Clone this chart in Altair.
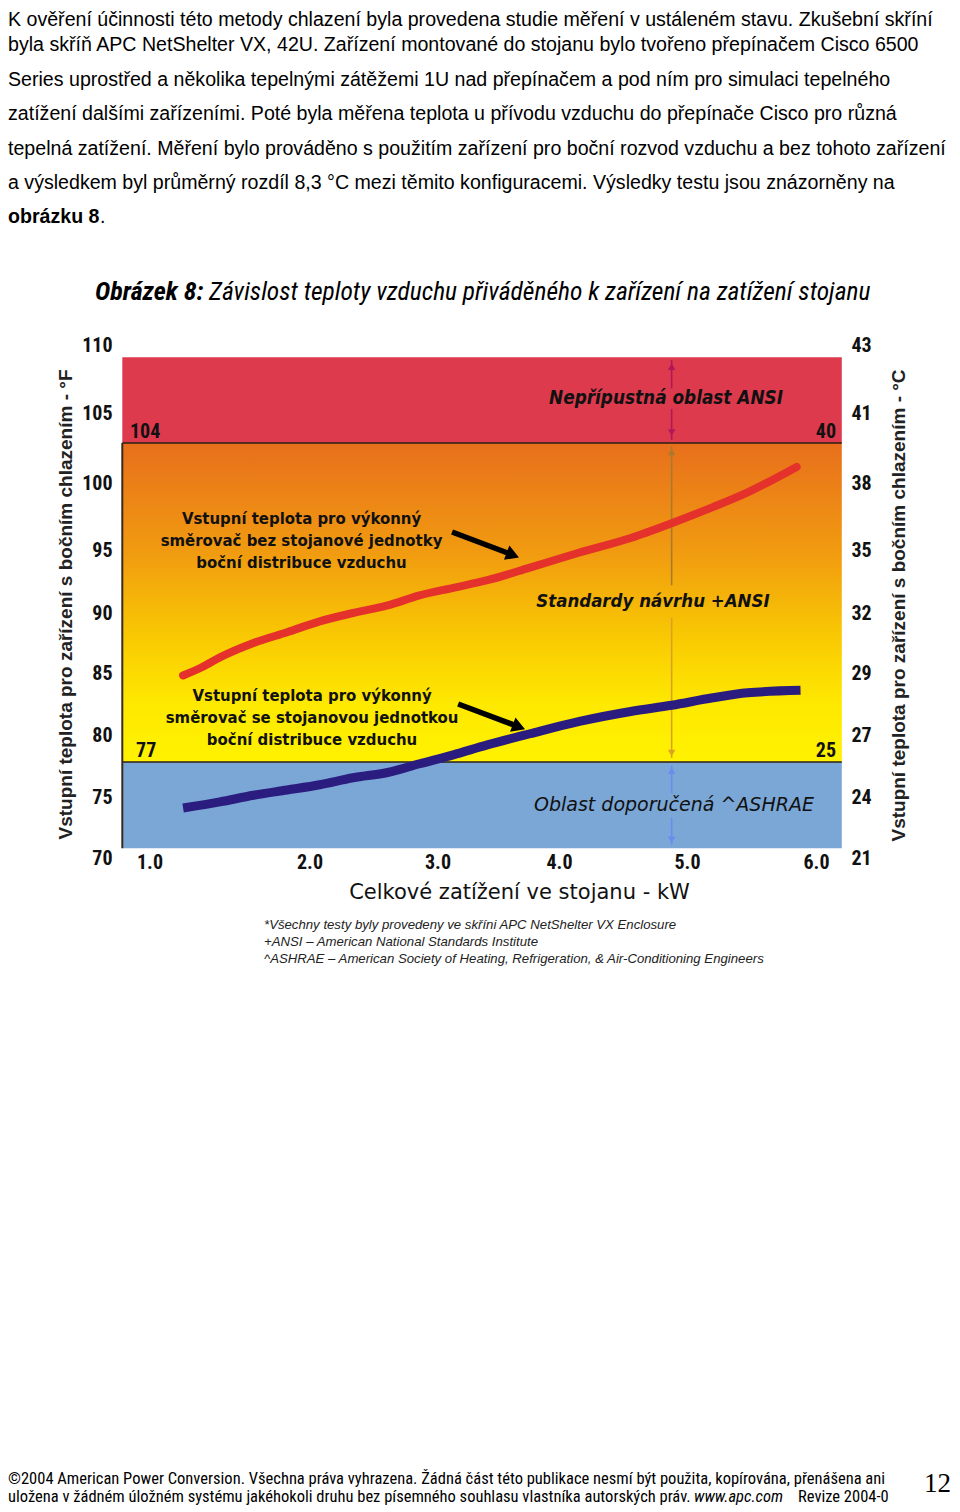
import altair as alt
import pandas as pd

# ------------------------------------------------------------------ data
red_kw = [1.21, 1.33, 1.44, 1.65, 1.86, 2.08, 2.34, 2.61, 2.86, 3.13, 3.41, 3.76, 4.16, 4.56, 4.88, 5.20, 5.47, 5.85]
red_f = [84.8, 85.5, 86.3, 87.5, 88.4, 89.3, 90.0, 90.6, 91.4, 92.0, 92.6, 93.6, 94.8, 95.9, 97.0, 98.2, 99.3, 101.6]
blue_kw = [1.21, 1.44, 1.65, 1.86, 2.08, 2.34, 2.61, 2.86, 3.13, 3.41, 3.76, 4.16, 4.56, 4.88, 5.20, 5.47, 5.88]
blue_f = [74.1, 74.6, 75.1, 75.4, 75.7, 76.1, 76.4, 76.9, 77.8, 78.9, 80.1, 81.1, 81.9, 82.4, 83.0, 83.4, 83.6]

x_ticks = [1, 2, 3, 4, 5, 6]
y_ticks_f = [70, 75, 80, 85, 90, 95, 100, 105, 110]

ansi_limit_f = 104
ashrae_limit_f = 77
band_kw = [0.83, 6.2]
band_top_f = 109.1
band_bottom_f = 70.8

# the original figure's axes are hand drawn and not uniform -> piecewise scales
X_SCALE = alt.Scale(domain=[1, 2, 3, 4, 5, 6],
                    range=[27.5, 187.5, 315.5, 437, 565, 694], nice=False, zero=False)
Y_SCALE = alt.Scale(domain=[70, 75, 77, 80, 85, 90, 95, 100, 104, 105, 110],
                    range=[501, 440, 405, 378, 316, 256, 193, 126, 86, 56, -12], nice=False, zero=False)

SANS = "Liberation Sans, Arial, sans-serif"
VERD = "DejaVu Sans Condensed, DejaVu Sans, sans-serif"
VERD_W = "DejaVu Sans, Verdana, sans-serif"
NARROW = "Roboto Condensed, Liberation Sans, sans-serif"
SERIF = "Liberation Serif, Times New Roman, serif"

W, H = 720, 491


def xq():
    return alt.X("kw:Q", scale=X_SCALE, axis=None)


def yq():
    return alt.Y("f:Q", scale=Y_SCALE, axis=None)


def band_rect(y0, y1, color):
    df = pd.DataFrame({"kw": [band_kw[0]], "kw2": [band_kw[1]], "f": [y0], "f2": [y1]})
    return alt.Chart(df).mark_rect(color=color).encode(x=xq(), x2="kw2:Q", y=yq(), y2="f2:Q")


gradient = {"gradient": "linear", "x1": 0, "x2": 0, "y1": 0, "y2": 1,
            "stops": [{"offset": 0, "color": "#E86F1C"},
                      {"offset": 0.35, "color": "#F19C10"},
                      {"offset": 0.62, "color": "#F9CB02"},
                      {"offset": 0.82, "color": "#FEE900"},
                      {"offset": 1, "color": "#FFF200"}]}

red_band = band_rect(ansi_limit_f, band_top_f, "#DE3A4E")
mid_band = band_rect(ashrae_limit_f, ansi_limit_f, gradient)
blue_band = band_rect(band_bottom_f, ashrae_limit_f, "#7BA7D6")

axis_df = pd.DataFrame({"kw": red_kw, "f": red_f})
left_axis = alt.Chart(axis_df).mark_point(opacity=0).encode(
    x=alt.X("kw:Q", scale=X_SCALE, axis=alt.Axis(
        values=x_ticks, format=".1f", domain=False, ticks=False, grid=False, labelFlush=False,
        orient="bottom",
        labelFont=NARROW, labelFontWeight="bold", labelFontSize=20, labelColor="#111", labelPadding=4,
        title="Celkové zatížení ve stojanu - kW", titleFont=VERD_W, titleFontSize=21,
        titleFontWeight="normal", titleColor="#111", titleX=397, titleY=44, titleBaseline="middle")),
    y=alt.Y("f:Q", scale=Y_SCALE, axis=alt.Axis(
        values=y_ticks_f, orient="left", domain=False, ticks=False, grid=False, labelFlush=False,
        labelFont=NARROW, labelFontWeight="bold", labelFontSize=20, labelColor="#111", labelPadding=10,
        title="Vstupní teplota pro zařízení s bočním chlazením - °F", titleFont=SANS,
        titleFontSize=19, titleFontWeight="bold", titleColor="#222", titleAngle=270,
        titleX=-57, titleY=247, titleAlign="center", titleBaseline="middle")),
)
right_axis = alt.Chart(axis_df).mark_point(opacity=0).encode(
    x=alt.X("kw:Q", scale=X_SCALE, axis=None),
    y=alt.Y("f:Q", scale=Y_SCALE, axis=alt.Axis(
        values=y_ticks_f, orient="right", domain=False, ticks=False, grid=False,
        labelExpr="format(round((datum.value - 32) * 5 / 9), 'd')",
        labelFont=NARROW, labelFontWeight="bold", labelFontSize=20, labelColor="#111",
        labelAlign="center", labelPadding=19,
        title="Vstupní teplota pro zařízení s bočním chlazením - °C", titleFont=SANS,
        titleFontSize=19, titleFontWeight="bold", titleColor="#222", titleAngle=270,
        titleX=56, titleY=248, titleAlign="center", titleBaseline="middle")),
)

limit_rules = alt.Chart(pd.DataFrame({"kw": [band_kw[0]] * 2, "kw2": [band_kw[1]] * 2,
                                      "f": [ansi_limit_f, ashrae_limit_f]})).mark_rule(
    color="#2A1E14", strokeWidth=1.6).encode(x=xq(), x2="kw2:Q", y=yq())
left_edge = alt.Chart(pd.DataFrame({"kw": [band_kw[0]], "f": [band_bottom_f], "f2": [ansi_limit_f]})).mark_rule(
    color="#3A2A1A", strokeWidth=2).encode(x=xq(), y=yq(), y2="f2:Q")

ARROW_KW = 4.88
seg_df = pd.DataFrame({
    "kw": [ARROW_KW] * 6,
    "f": [108.9, 105.3, 103.7, 89.6, 76.8, 73.3],
    "f2": [106.8, 104.1, 92.2, 77.45, 75.2, 71.1],
    "c": ["#B0185A", "#B0185A", "#A87A2E", "#D9A226", "#6A8CF0", "#6A8CF0"],
})
segs = alt.Chart(seg_df).mark_rule(strokeWidth=1.6).encode(
    x=xq(), y=yq(), y2="f2:Q", color=alt.Color("c:N", scale=None))
head_df = pd.DataFrame({
    "kw": [ARROW_KW] * 6,
    "f": [108.4, 104.35, 103.1, 78.0, 76.5, 71.5],
    "shape": ["triangle-up", "triangle-down"] * 3,
    "c": ["#B0185A", "#B0185A", "#A87A2E", "#D9A226", "#6A8CF0", "#6A8CF0"],
})
heads = alt.Chart(head_df).mark_point(filled=True, size=55, opacity=1).encode(
    x=xq(), y=yq(), shape=alt.Shape("shape:N", scale=None), color=alt.Color("c:N", scale=None))

red_line = alt.Chart(pd.DataFrame({"kw": red_kw, "f": red_f})).mark_line(
    color="#E5312B", strokeWidth=8, strokeCap="round", strokeJoin="round", interpolate="monotone"
).encode(x=xq(), y=yq())
blue_line = alt.Chart(pd.DataFrame({"kw": blue_kw, "f": blue_f})).mark_line(
    color="#2B1C80", strokeWidth=9, strokeCap="butt", strokeJoin="round", interpolate="monotone"
).encode(x=xq(), y=yq())

ptr_df = pd.DataFrame({"kw": [3.12, 3.17], "f": [96.34, 82.5], "kw2": [3.60, 3.65], "f2": [94.68, 80.73]})
ptr = alt.Chart(ptr_df).mark_rule(color="#000", strokeWidth=5.5).encode(x=xq(), y=yq(), x2="kw2:Q", y2="f2:Q")
ptr_head = alt.Chart(pd.DataFrame({"kw": [3.62, 3.67], "f": [94.6, 80.65]})).mark_point(
    shape="triangle-right", filled=True, size=230, angle=21, color="#000", opacity=1).encode(x=xq(), y=yq())


def dtext(rows, font, size, weight="normal", style="normal", align="center", baseline="alphabetic", dy=0):
    df = pd.DataFrame(rows, columns=["t", "kw", "f"])
    return alt.Chart(df).mark_text(font=font, fontSize=size, fontWeight=weight, fontStyle=style,
                                   align=align, baseline=baseline, dy=dy, color="#111").encode(
        x=xq(), y=yq(), text="t:N")


note1 = dtext([["Vstupní teplota pro výkonný", 1.95, 96.94],
               ["směrovač bez stojanové jednotky", 1.95, 95.30],
               ["boční distribuce vzduchu", 1.95, 93.57]], VERD, 16.6, "bold")
note2 = dtext([["Vstupní teplota pro výkonný", 2.02, 82.74],
               ["směrovač se stojanovou jednotkou", 2.02, 80.97],
               ["boční distribuce vzduchu", 2.02, 78.89]], VERD, 16.6, "bold")
zone1 = dtext([["Nepřípustná oblast ANSI", 4.836, 106.1]], VERD, 18.8, "bold", "italic", baseline="middle")
zone2 = dtext([["Standardy návrhu +ANSI", 4.734, 90.95]], VERD, 18.5, "bold", "italic", baseline="middle")
zone3 = dtext([["Oblast doporučená ^ASHRAE", 4.898, 74.34]], VERD_W, 19, "normal", "italic", baseline="middle")
lim_left = dtext([["104", 0.878, 104], ["77", 0.916, 77]], NARROW, 20, "bold", align="left",
                 baseline="bottom", dy=-1)
lim_right = dtext([["40", 6.155, 104], ["25", 6.155, 77]], NARROW, 20, "bold", align="right",
                  baseline="bottom", dy=-1)


def ptext(text, x, y, font, size, weight="normal", style="normal", align="left", color="#000"):
    return alt.Chart(pd.DataFrame({"t": [text]})).mark_text(
        font=font, fontSize=size, fontWeight=weight, fontStyle=style, align=align,
        baseline="alphabetic", color=color).encode(x=alt.value(x), y=alt.value(y), text="t:N")


para = [
    "K ověření účinnosti této metody chlazení byla provedena studie měření v ustáleném stavu. Zkušební skříní",
    "byla skříň APC NetShelter VX, 42U. Zařízení montované do stojanu bylo tvořeno přepínačem Cisco 6500",
    "Series uprostřed a několika tepelnými zátěžemi 1U nad přepínačem a pod ním pro simulaci tepelného",
    "zatížení dalšími zařízeními. Poté byla měřena teplota u přívodu vzduchu do přepínače Cisco pro různá",
    "tepelná zatížení. Měření bylo prováděno s použitím zařízení pro boční rozvod vzduchu a bez tohoto zařízení",
    "a výsledkem byl průměrný rozdíl 8,3 °C mezi těmito konfiguracemi. Výsledky testu jsou znázorněny na",
]
para_y = [-331, -306, -271, -237, -202, -168]
page_texts = [ptext(t, -114, y, SANS, 19.6) for t, y in zip(para, para_y)]
page_texts += [
    ptext("obrázku 8", -114, -134, SANS, 19.6, "bold"),
    ptext(".", -22, -134, SANS, 19.6),
    ptext("Obrázek 8:", -27, -57, NARROW, 26, "bold", "italic"),
    ptext("Závislost teploty vzduchu přiváděného k zařízení na zatížení stojanu", 87, -57, NARROW, 25.5,
          "normal", "italic"),
    ptext("*Všechny testy byly provedeny ve skříni APC NetShelter VX Enclosure", 142, 572, SANS, 13.2,
          "normal", "italic", color="#222"),
    ptext("+ANSI – American National Standards Institute", 142, 589, SANS, 13.2, "normal", "italic",
          color="#222"),
    ptext("^ASHRAE – American Society of Heating, Refrigeration, & Air-Conditioning Engineers", 142, 606,
          SANS, 13.2, "normal", "italic", color="#222"),
    ptext("©2004 American Power Conversion. Všechna práva vyhrazena. Žádná část této publikace nesmí být "
          "použita, kopírována, přenášena ani", -114, 1127, NARROW, 16.5),
    ptext("uložena v žádném úložném systému jakéhokoli druhu bez písemného souhlasu vlastníka autorských "
          "práv.", -114, 1145, NARROW, 16.5),
    ptext("www.apc.com", 572, 1145, NARROW, 16.5, "normal", "italic"),
    ptext("Revize 2004-0", 676, 1145, NARROW, 16.5),
    ptext("12", 829, 1135, SERIF, 27, align="right"),
]

chart = alt.layer(
    red_band, mid_band, blue_band, left_axis, right_axis, limit_rules, left_edge, segs, heads,
    red_line, blue_line, ptr, ptr_head, note1, note2, zone1, zone2, zone3, lim_left, lim_right,
    *page_texts,
).resolve_axis(x="independent", y="independent").properties(
    width=W, height=H, padding={"top": 2, "left": 0, "right": 0, "bottom": 0}, background="white"
).configure_view(strokeWidth=0)

chart.save("out.html", embed_options={"renderer": "svg", "actions": False})
